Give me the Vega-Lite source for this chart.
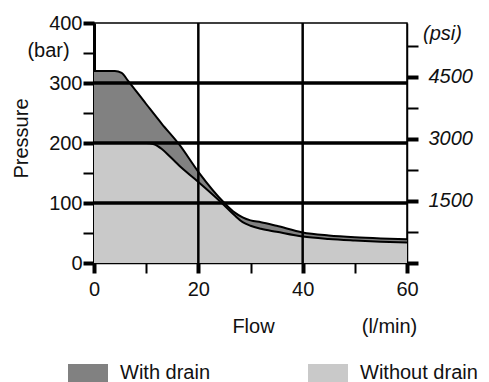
{
  "$schema": "https://vega.github.io/schema/vega-lite/v6.json",
  "width": 313,
  "height": 240,
  "autosize": {"type": "none"},
  "padding": {"left": 94, "top": 23, "right": 82, "bottom": 119},
  "background": "white",
  "config": {
    "font": "Liberation Sans",
    "view": {"stroke": "black", "strokeWidth": 1.5},
    "axis": {"labelColor": "#111", "titleColor": "#111", "tickColor": "black", "domainColor": "black", "labelFontSize": 20, "titleFontSize": 20, "titleFontWeight": "normal", "grid": false, "zindex": 1, "labelOverlap": false, "labelFlush": false, "labelBound": false}
  },
  "datasets": {
    "curves": [
      {"flow": 0, "pressure": 320, "series": "With drain"},
      {"flow": 4, "pressure": 320, "series": "With drain"},
      {"flow": 5.3, "pressure": 317, "series": "With drain"},
      {"flow": 6.5, "pressure": 304, "series": "With drain"},
      {"flow": 10, "pressure": 265, "series": "With drain"},
      {"flow": 13, "pressure": 232, "series": "With drain"},
      {"flow": 16.3, "pressure": 198, "series": "With drain"},
      {"flow": 20, "pressure": 152, "series": "With drain"},
      {"flow": 25, "pressure": 100, "series": "With drain"},
      {"flow": 27, "pressure": 84, "series": "With drain"},
      {"flow": 28.5, "pressure": 76, "series": "With drain"},
      {"flow": 30, "pressure": 71, "series": "With drain"},
      {"flow": 32, "pressure": 68, "series": "With drain"},
      {"flow": 35, "pressure": 62, "series": "With drain"},
      {"flow": 40, "pressure": 51, "series": "With drain"},
      {"flow": 45, "pressure": 46, "series": "With drain"},
      {"flow": 50, "pressure": 43, "series": "With drain"},
      {"flow": 55, "pressure": 41, "series": "With drain"},
      {"flow": 60, "pressure": 39.5, "series": "With drain"},
      {"flow": 0, "pressure": 200, "series": "Without drain"},
      {"flow": 10, "pressure": 200, "series": "Without drain"},
      {"flow": 11.5, "pressure": 198, "series": "Without drain"},
      {"flow": 13, "pressure": 190, "series": "Without drain"},
      {"flow": 14.6, "pressure": 177, "series": "Without drain"},
      {"flow": 17, "pressure": 157, "series": "Without drain"},
      {"flow": 20, "pressure": 135, "series": "Without drain"},
      {"flow": 24.5, "pressure": 100, "series": "Without drain"},
      {"flow": 27, "pressure": 79, "series": "Without drain"},
      {"flow": 28.5, "pressure": 68, "series": "Without drain"},
      {"flow": 30, "pressure": 62, "series": "Without drain"},
      {"flow": 32, "pressure": 57, "series": "Without drain"},
      {"flow": 35, "pressure": 52, "series": "Without drain"},
      {"flow": 40, "pressure": 44, "series": "Without drain"},
      {"flow": 45, "pressure": 40, "series": "Without drain"},
      {"flow": 50, "pressure": 37.5, "series": "Without drain"},
      {"flow": 55, "pressure": 35.5, "series": "Without drain"},
      {"flow": 60, "pressure": 34, "series": "Without drain"}
    ],
    "hgrid": [{"pressure": 100}, {"pressure": 200}, {"pressure": 300}],
    "vgrid": [{"flow": 20}, {"flow": 40}],
    "psi": [{"flow": 60, "psi": 0}, {"flow": 60, "psi": 5801.5}]
  },
  "layer": [
    {
      "layer": [
        {
          "data": {"name": "curves"},
          "mark": {"type": "area", "interpolate": "monotone", "opacity": 1},
          "encoding": {
            "x": {"field": "flow", "type": "quantitative", "scale": {"domain": [0, 60], "nice": false},
              "axis": {"title": "Flow", "values": [0, 10, 20, 30, 40, 50, 60], "labelOverlap": false,
                "labelExpr": "datum.value % 20 == 0 ? datum.label : ''",
                "tickSize": 10, "tickWidth": {"condition": {"test": "datum.value % 20 == 0", "value": 4}, "value": 2},
                "labelPadding": 6, "domainWidth": 1.5,
                "titleX": 159, "titleY": 63, "titleBaseline": "middle", "titleAlign": "center"}},
            "y": {"field": "pressure", "type": "quantitative", "stack": null, "scale": {"domain": [0, 400], "nice": false},
              "axis": {"orient": "left", "title": "Pressure", "values": [0, 50, 100, 150, 200, 250, 300, 350, 400], "labelOverlap": false,
                "labelExpr": "datum.value % 100 == 0 ? datum.label : ''",
                "tickSize": 11, "tickWidth": {"condition": {"test": "datum.value % 100 == 0", "value": 4}, "value": 2},
                "labelPadding": 1,
                "domainWidth": 3,
                "titleX": -73, "titleY": 115, "titleBaseline": "middle", "titleAlign": "center", "titleAngle": -90}},
            "color": {"field": "series", "type": "nominal",
              "scale": {"domain": ["With drain", "Without drain"], "range": ["#818181", "#c9c9c9"]},
              "legend": {"orient": "none", "legendX": -26, "legendY": 330, "direction": "horizontal", "title": null,
                "symbolType": "M-1,-0.45H1V0.45H-1Z", "symbolSize": 1600, "symbolStrokeWidth": 0, "symbolOpacity": 1,
                "labelFontSize": 20, "labelColor": "#111", "labelOffset": 12, "columnPadding": 97, "labelLimit": 300}}
          }
        },
        {
          "data": {"name": "curves"},
          "mark": {"type": "line", "interpolate": "monotone", "color": "black", "strokeWidth": 2},
          "encoding": {
            "x": {"field": "flow", "type": "quantitative"},
            "y": {"field": "pressure", "type": "quantitative", "axis": null},
            "detail": {"field": "series"}
          }
        },
        {
          "data": {"name": "hgrid"},
          "mark": {"type": "rule", "color": "black", "strokeWidth": 3.5},
          "encoding": {"y": {"field": "pressure", "type": "quantitative", "axis": null}}
        },
        {
          "data": {"name": "vgrid"},
          "mark": {"type": "rule", "color": "black", "strokeWidth": 2.5},
          "encoding": {"x": {"field": "flow", "type": "quantitative"}}
        },
        {
          "data": {"name": "hgrid"},
          "mark": {"type": "rule", "opacity": 0},
          "encoding": {"y": {"field": "pressure", "type": "quantitative",
            "axis": {"orient": "left", "title": "(bar)", "labels": false, "ticks": false, "domain": false,
              "titleAngle": 0, "titleX": -46, "titleY": 27, "titleAlign": "center", "titleBaseline": "middle"}}}
        }
      ],
      "resolve": {"axis": {"y": "independent"}}
    },
    {
      "data": {"name": "psi"},
      "mark": {"type": "point", "opacity": 0},
      "encoding": {
        "x": {"field": "flow", "type": "quantitative", "scale": {"domain": [0, 60], "nice": false},
          "axis": {"orient": "bottom", "title": "(l/min)", "labels": false, "ticks": false, "domain": false,
            "titleX": 295, "titleY": 63, "titleBaseline": "middle", "titleAlign": "center"}},
        "y": {"field": "psi", "type": "quantitative", "scale": {"domain": [0, 5801.5], "nice": false},
          "axis": {"orient": "right", "title": "(psi)", "values": [0, 750, 1500, 2250, 3000, 3750, 4500, 5250], "labelOverlap": false,
            "labelExpr": "datum.value > 0 && datum.value % 1500 == 0 ? datum.label : ''",
            "format": "d", "labelFontStyle": "italic", "titleFontStyle": "italic",
            "tickSize": 11, "tickWidth": {"condition": {"test": "datum.value % 1500 == 0", "value": 4}, "value": 2},
            "labelPadding": 10, "domainWidth": 1.5,
            "titleAngle": 0, "titleX": 35, "titleY": 10, "titleBaseline": "middle", "titleAlign": "center"}}
      }
    }
  ],
  "resolve": {"scale": {"y": "independent"}, "axis": {"x": "independent"}}
}
